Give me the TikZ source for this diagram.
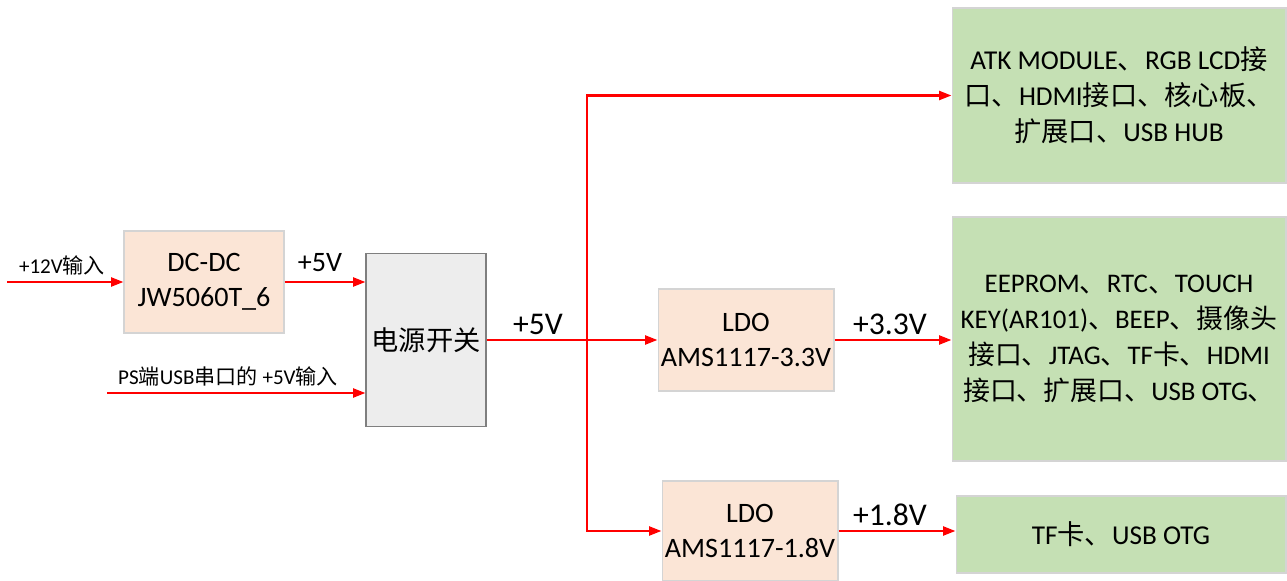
\documentclass[tikz,border=0pt]{standalone}
\usepackage{fontspec}
\setmainfont{Carlito}
\newfontfamily\cjk{Noto Sans CJK SC}
\newcommand{\zh}[1]{{\cjk #1}}
\usepackage{tikz}
\usetikzlibrary{
    arrows.meta,
    positioning
}

\definecolor{ldofill}{HTML}{FBE5D6}
\definecolor{loadfill}{HTML}{C5E0B4}
\definecolor{swfill}{HTML}{EDEDED}
\definecolor{softline}{HTML}{D4D4D4}
\definecolor{swline}{HTML}{7F7F7F}

\begin{document}
\begin{tikzpicture}[x=0.02cm,y=-0.02cm,
    conv/.style={draw=softline, fill=ldofill, line width=0.6pt, align=center,
        inner sep=0pt, font=\fontsize{16}{20}\selectfont},
    load/.style={draw=softline, fill=loadfill, line width=0.6pt, align=center,
        inner sep=0pt, font=\fontsize{15.5}{20.6}\selectfont},
    switchbox/.style={draw=swline, fill=swfill, line width=0.6pt, align=center,
        inner sep=0pt, font=\fontsize{15.5}{19}\selectfont},
    pw/.style={red, line width=1.4pt, -{Triangle[length=7pt,width=5pt]}},
    smalllbl/.style={inner sep=0pt, font=\fontsize{12}{14}\selectfont},
    volt/.style={inner sep=0pt, font=\fontsize{18}{20}\selectfont}
]

\useasboundingbox (0,0) rectangle (1287,581);

% Converters and switch
\node[conv, minimum width=3.2cm, minimum height=2.04cm] (dcdc) at (204,282) {DC-DC\\JW5060T\_6};
\node[switchbox, minimum width=2.4cm, minimum height=3.46cm] (sw) at (426,340) {\zh{电源开关}};
\node[conv, minimum width=3.52cm, minimum height=2.04cm] (ldo33) at (746,340) {LDO\\AMS1117-3.3V};
\node[conv, minimum width=3.52cm, minimum height=2.0cm] (ldo18) at (750,531) {LDO\\AMS1117-1.8V};

% Loads
\node[load, minimum width=6.68cm, minimum height=3.5cm] (out1) at (1119,95.5)
    {ATK MODULE\zh{、}RGB LCD\zh{接}\\\zh{口、}HDMI\zh{接口、核心板、}\\\zh{扩展口、}USB HUB};
\node[load, font=\fontsize{15.3}{20.6}\selectfont, minimum width=6.68cm, minimum height=4.88cm] (out2) at (1119,339)
    {EEPROM\zh{、}RTC\zh{、}TOUCH\\KEY(AR101)\zh{、}BEEP\zh{、摄像头}\\\zh{接口、}JTAG\zh{、}TF\zh{卡、}HDMI\\\zh{接口、扩展口、}USB OTG\zh{、}};
\node[load, minimum width=6.6cm, minimum height=1.54cm] (out3) at (1121,534.5) {TF\zh{卡、}USB OTG};

% Inputs
\coordinate (in12) at (7,282);
\coordinate (inps) at (107,393);
\draw[pw] (in12) -- (dcdc.west);
\draw[pw] (inps) -- (inps -| sw.west);
\draw[pw] (dcdc.east) -- (dcdc.east -| sw.west);

% 5V rail
\coordinate (jn) at (587,340);
\draw[pw] (sw.east) -- (ldo33.west);
\draw[pw] (jn) |- (out1.west);
\draw[pw] (jn) |- (ldo18.west);

% Outputs
\draw[pw] (ldo33.east) -- (ldo33.east -| out2.west);
\draw[pw] (ldo18.east) -- (ldo18.east -| out3.west);

% Labels
\node[smalllbl] (l12) at (62,265) {+12V\zh{输入}};
\node[smalllbl] (lps) at (228,376) {PS\zh{端}USB\zh{串口的} +5V\zh{输入}};
\node[volt, font=\fontsize{16}{18}\selectfont] (l5a) at (320,263) {+5V};
\node[volt] (l5b) at (538,324) {+5V};
\node[volt] (l33) at (890,324) {+3.3V};
\node[volt] (l18) at (890,515) {+1.8V};

\end{tikzpicture}
\end{document}
